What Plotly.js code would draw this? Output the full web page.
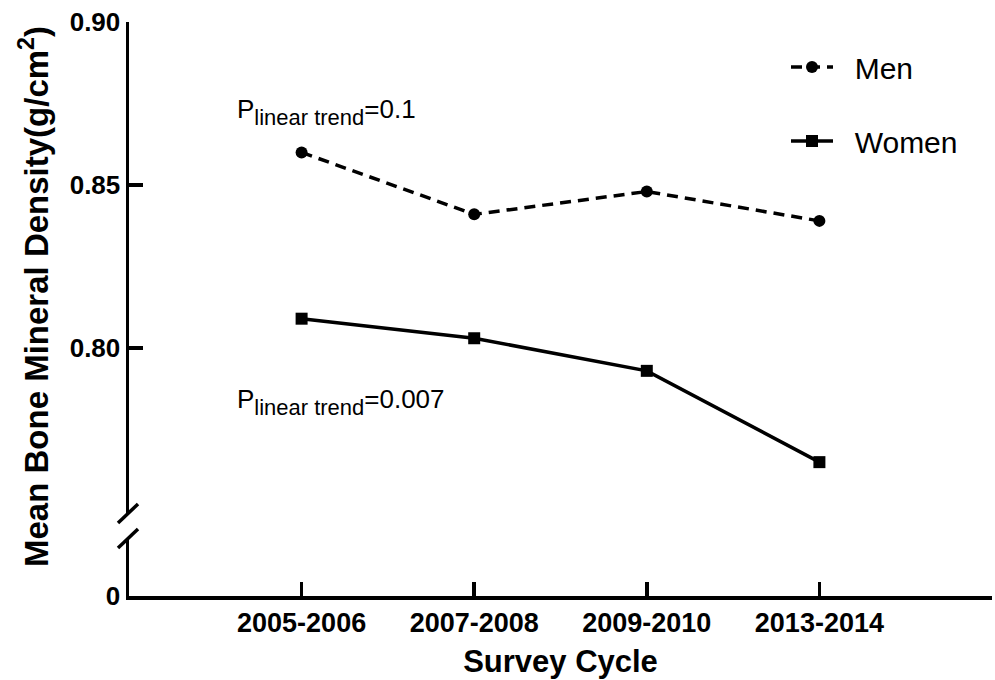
<!DOCTYPE html>
<html>
<head>
<meta charset="utf-8">
<script src="https://cdn.plot.ly/plotly-3.0.1.min.js"></script>
<style>html,body{margin:0;padding:0;background:#fff;}#chart{width:995px;height:680px;}</style>
</head>
<body>
<div id="chart"></div>
<script>
// ---- data ----
const cycles = ['2005-2006', '2007-2008', '2009-2010', '2013-2014'];
const menBMD = [0.860, 0.841, 0.848, 0.839];
const womenBMD = [0.809, 0.803, 0.793, 0.765];
const upperTicks = [0.80, 0.85, 0.90];
const upperTickText = ['0.80', '0.85', '0.90'];
const lowerTicks = [0];
const lowerTickText = ['0'];
const pMen = '0.1';
const pWomen = '0.007';

const FONT = 'Liberation Sans, Arial, Helvetica, sans-serif';
const idx = cycles.map((_, i) => i);
const pad = '\u00A0\u00A0';

const traces = [
  {
    x: idx, y: menBMD, name: pad + 'Men', type: 'scatter', mode: 'lines+markers',
    line: {color: '#000', width: 3.5, dash: '11px,7px'},
    marker: {symbol: 'circle', size: 12, color: '#000'},
    legendgroup: 'men', xaxis: 'x', yaxis: 'y'
  },
  {
    x: idx, y: womenBMD, name: pad + 'Women', type: 'scatter', mode: 'lines+markers',
    line: {color: '#000', width: 3.5},
    marker: {symbol: 'square', size: 12, color: '#000'},
    legendgroup: 'women', xaxis: 'x', yaxis: 'y'
  },
  {
    x: [], y: [], type: 'scatter', mode: 'markers', showlegend: false,
    hoverinfo: 'skip', xaxis: 'x', yaxis: 'y2'
  }
];

const H = 680, T = 22, B = 84, L = 129, R = 3;
const plotH = H - T - B, plotW = 995 - L - R;
const py = (pix) => (H - B - pix) / plotH;  // pixel y -> paper
const px = (pix) => (pix - L) / plotW;      // pixel x -> paper

const axisCommon = {
  showline: true, linecolor: '#000', linewidth: 3.5,
  ticks: 'inside', ticklen: 14, tickwidth: 3.5, tickcolor: '#000',
  showgrid: false, zeroline: false,
  tickfont: {family: FONT, size: 26, color: '#000', weight: 700}
};

const layout = {
  width: 995, height: 680,
  margin: {l: L, r: R, t: T, b: B},
  paper_bgcolor: '#fff', plot_bgcolor: '#fff',
  showlegend: true,
  legend: {
    x: px(786), y: py(41), xanchor: 'left', yanchor: 'top',
    font: {family: FONT, size: 30, color: '#000'},
    traceorder: 'grouped', tracegroupgap: 32,
    bgcolor: 'rgba(0,0,0,0)', itemwidth: 42
  },
  xaxis: Object.assign({}, axisCommon, {
    anchor: 'y2', range: [-1, 4],
    tickmode: 'array', tickvals: [0, 1, 2, 3, 4], ticktext: cycles.concat(['']),
    tickfont: {family: FONT, size: 27, color: '#000', weight: 700},
    title: {text: 'Survey Cycle', font: {family: FONT, size: 31, color: '#000', weight: 700}, standoff: 14}
  }),
  yaxis: Object.assign({}, axisCommon, {
    anchor: 'x', domain: [py(513), 1], range: [0.7494, 0.90],
    tickmode: 'array', tickvals: upperTicks, ticktext: upperTickText
  }),
  yaxis2: Object.assign({}, axisCommon, {
    anchor: 'x', domain: [0, py(538)], range: [0, 0.1],
    tickmode: 'array', tickvals: lowerTicks, ticktext: lowerTickText
  }),
  shapes: [
    {type: 'line', xref: 'paper', yref: 'paper', x0: px(118), y0: py(523), x1: px(138), y1: py(504), line: {color: '#000', width: 3.5}},
    {type: 'line', xref: 'paper', yref: 'paper', x0: px(118), y0: py(548), x1: px(138), y1: py(529), line: {color: '#000', width: 3.5}}
  ],
  annotations: [
    {
      xref: 'paper', yref: 'paper', x: px(34), y: py(297), xanchor: 'center', yanchor: 'middle',
      textangle: -90, showarrow: false,
      text: '<b>Mean Bone Mineral Density(g/cm<sup>2</sup>)</b>',
      font: {family: FONT, size: 33, color: '#000'}
    },
    {
      xref: 'paper', yref: 'paper', x: px(235), y: py(112), xanchor: 'left', yanchor: 'middle', showarrow: false,
      text: '<span style="font-size:26px">P</span><sub>linear trend</sub><span style="font-size:26px">=' + pMen + '</span>',
      font: {family: FONT, size: 31.4, color: '#000'}
    },
    {
      xref: 'paper', yref: 'paper', x: px(235), y: py(402), xanchor: 'left', yanchor: 'middle', showarrow: false,
      text: '<span style="font-size:26px">P</span><sub>linear trend</sub><span style="font-size:26px">=' + pWomen + '</span>',
      font: {family: FONT, size: 31.4, color: '#000'}
    }
  ]
};

Plotly.newPlot('chart', traces, layout, {staticPlot: true, displayModeBar: false});
</script>
</body>
</html>
